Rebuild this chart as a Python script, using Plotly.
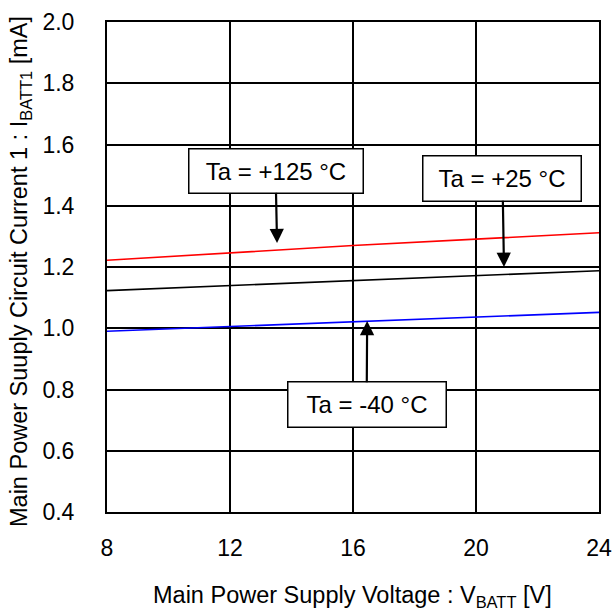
import plotly.graph_objects as go

voltage = [8, 12, 16, 20, 24]
i_125 = [1.222, 1.247, 1.270, 1.291, 1.312]
i_25 = [1.123, 1.139, 1.155, 1.172, 1.188]
i_m40 = [0.990, 1.005, 1.021, 1.036, 1.052]

x_ticks = [8, 12, 16, 20, 24]
y_ticks = [0.4, 0.6, 0.8, 1.0, 1.2, 1.4, 1.6, 1.8, 2.0]

labels = ["Ta = +125 °C", "Ta = +25 °C", "Ta = -40 °C"]
label_pts = [(13.53, 1.278), (20.91, 1.200), (16.46, 1.024)]

x_title = "Main Power Supply Voltage : V<sub>BATT</sub> [V]"
y_title = "Main Power Suuply Circuit Current 1 : I<sub>BATT1</sub> [mA]"

FONT = "Liberation Sans, Arial, sans-serif"
W, H = 612, 615
ML, MR, MT, MB = 107, 13, 22, 103
PW, PH = W - ML - MR, H - MT - MB

fig = go.Figure()
fig.add_trace(go.Scatter(x=voltage, y=i_125, mode="lines", line=dict(color="#FF0000", width=1.6), showlegend=False))
fig.add_trace(go.Scatter(x=voltage, y=i_25, mode="lines", line=dict(color="#000000", width=1.6), showlegend=False))
fig.add_trace(go.Scatter(x=voltage, y=i_m40, mode="lines", line=dict(color="#0000FF", width=1.6), showlegend=False))

offsets = [(-1.5, -72.5, 171, 41), (-1.5, -89, 155, 42), (-0.5, 84, 155, 42)]
for lab, (px, py), (ax, ay, w, h) in zip(labels, label_pts, offsets):
    fig.add_annotation(
        x=px, y=py, text=lab, showarrow=True, ax=ax, ay=ay,
        arrowhead=2, arrowsize=1.3, arrowwidth=2.2, arrowcolor="black",
        width=w, height=h, borderpad=1, bordercolor="black", borderwidth=1.5,
        bgcolor="white", font=dict(family=FONT, size=24, color="black"),
        standoff=0,
    )

# axis titles placed as paper annotations
fig.add_annotation(
    xref="paper", yref="paper", x=(352 - ML) / PW, y=(MT + PH - 596) / PH,
    xanchor="center", yanchor="middle", showarrow=False,
    text=x_title, font=dict(family=FONT, size=23.5, color="black"),
)
fig.add_annotation(
    xref="paper", yref="paper", x=(20 - ML) / PW, y=(MT + PH - 272) / PH,
    xanchor="center", yanchor="middle", showarrow=False, textangle=-90,
    text=y_title, font=dict(family=FONT, size=23.5, color="black"),
)

fig.update_layout(
    width=W, height=H,
    margin=dict(l=ML, r=MR, t=MT, b=MB, autoexpand=False),
    paper_bgcolor="white", plot_bgcolor="white",
    font=dict(family=FONT, size=23, color="black"),
    xaxis=dict(
        range=[8, 24], tickvals=x_ticks, ticktext=[str(v) for v in x_ticks],
        showgrid=True, gridcolor="black", gridwidth=1.6,
        showline=True, linecolor="black", linewidth=2, mirror=True,
        ticks="", ticklabelstandoff=14, zeroline=False, ticklabeloverflow="allow",
    ),
    yaxis=dict(
        range=[0.4, 2.0], tickvals=y_ticks, ticktext=[f"{v:.1f}" for v in y_ticks],
        showgrid=True, gridcolor="black", gridwidth=1.6,
        showline=True, linecolor="black", linewidth=2, mirror=True,
        ticks="", ticklabelstandoff=26, zeroline=False, ticklabeloverflow="allow",
    ),
)

fig.write_html("out.html", config={"displayModeBar": False},
               post_script="document.body.style.margin='0';document.body.style.padding='0';")
